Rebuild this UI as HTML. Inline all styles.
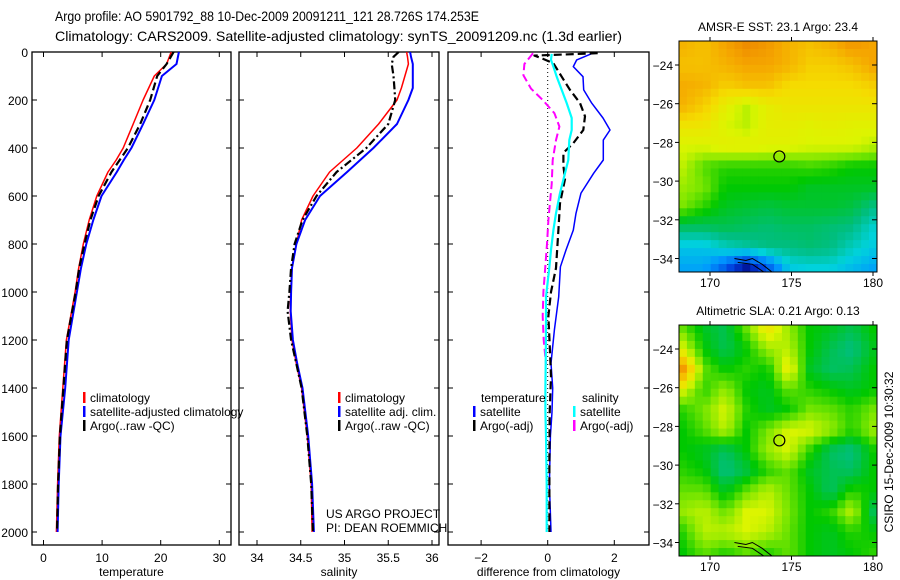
<!DOCTYPE html>
<html><head><meta charset="utf-8"><style>
body{margin:0;background:#fff;}
svg{display:block;font-family:"Liberation Sans",sans-serif;}
</style></head><body>
<svg id="chart" width="900" height="580" viewBox="0 0 900 580" xmlns="http://www.w3.org/2000/svg">
<text x="55" y="21" font-size="14" textLength="424" lengthAdjust="spacingAndGlyphs">Argo profile: AO 5901792_88 10-Dec-2009 20091211_121 28.726S 174.253E</text>
<text x="55" y="41" font-size="14" textLength="567" lengthAdjust="spacingAndGlyphs">Climatology: CARS2009. Satellite-adjusted climatology: synTS_20091209.nc (1.3d earlier)</text>
<g id="g"></g>
</svg>
<script>
// ---------- data ----------
const tDepth   = [0,50,100,200,300,400,450,500,600,700,800,900,1000,1200,1400,1600,1800,2000];
const tClim    = [21.8,21.0,18.9,17.0,15.3,13.6,12.4,11.0,9.1,7.8,6.8,6.0,5.4,3.9,3.3,2.7,2.4,2.2];
const tSat     = [23.1,22.7,20.2,18.9,17.0,15.0,13.7,12.5,9.9,8.5,7.3,6.4,5.7,4.3,3.7,2.9,2.6,2.4];
const tArgo    = [22.2,21.0,19.4,18.2,16.5,14.4,13.0,11.6,9.4,8.0,7.0,6.1,5.5,4.0,3.4,2.8,2.5,2.3];
const sDepth   = [0,20,50,100,150,200,300,400,500,600,700,800,900,1000,1080,1200,1300,1400,1600,1800,2000];
const sClim    = [35.71,35.72,35.73,35.69,35.65,35.60,35.39,35.14,34.83,34.64,34.51,34.45,34.40,34.385,34.38,34.40,34.45,34.51,34.575,34.62,34.63];
const sSat     = [35.75,35.76,35.78,35.78,35.78,35.73,35.60,35.33,35.03,34.72,34.55,34.45,34.40,34.39,34.385,34.41,34.46,34.52,34.585,34.63,34.65];
const sArgo    = [35.62,35.56,35.54,35.56,35.57,35.58,35.50,35.25,34.91,34.68,34.52,34.43,34.39,34.37,34.35,34.39,34.45,34.51,34.575,34.62,34.64];
const dTDepth  = [8,33,61,103,158,213,275,325,367,450,505,588,672,742,825,895,1020,1158,1297,1400,1500,1600,1800,2000];
const dTSat    = [1.3,0.87,0.77,1.06,1.08,1.32,1.66,1.87,1.67,1.67,1.38,1.0,0.85,0.77,0.55,0.38,0.33,0.2,0.1,0.15,0.13,0.08,0.05,0.1];
const dSSat    = [0.12,0.1,0.17,0.27,0.42,0.57,0.72,0.72,0.65,0.62,0.52,0.37,0.25,0.17,0.1,0.05,-0.05,-0.05,-0.06,-0.07,-0.07,-0.05,-0.03,-0.03];
const dADepth  = [5,15,25,47,103,158,213,268,325,380,420,475,530,630,742,900,1000,1100,1250,1350,1500,1700,2000];
const dTArgo   = [1.5,-0.4,-0.2,0.17,0.42,0.67,0.97,1.12,1.07,0.77,0.47,0.47,0.52,0.37,0.32,0.25,0.1,0.02,0.07,0.1,0.06,0.05,0.05];
const dSDepth  = [5,50,97,153,200,255,311,367,450,550,700,800,1000,1100,1200,1300];
const dSArgo   = [-0.44,-0.7,-0.73,-0.5,-0.15,0.2,0.35,0.25,0.15,0.12,0.02,-0.02,-0.13,-0.15,-0.12,-0.05];
const depthTicks = [0,200,400,600,800,1000,1200,1400,1600,1800,2000];
const tTicks = [0,10,20,30];
const sTicks = [34,34.5,35,35.5,36];
const dTicks = [-2,0,2];
const latTicks = [-24,-26,-28,-30,-32,-34];
const lonTicks = [170,175,180];
const sstField = [
[.74,.72,.76,.80,.78,.74,.72,.74,.78,.76],[.72,.72,.74,.76,.76,.74,.70,.70,.72,.76],
[.75,.74,.70,.72,.72,.68,.68,.68,.68,.70],[.74,.70,.64,.60,.64,.66,.66,.66,.66,.66],
[.66,.66,.62,.60,.64,.64,.63,.64,.63,.63],[.62,.62,.64,.64,.63,.63,.62,.62,.62,.60],
[.60,.54,.52,.52,.52,.52,.53,.52,.50,.50],[.58,.56,.50,.50,.50,.50,.48,.48,.48,.48],
[.56,.52,.48,.47,.46,.47,.47,.47,.46,.42],[.44,.44,.45,.44,.43,.44,.44,.43,.42,.37],
[.34,.34,.38,.40,.42,.42,.43,.42,.38,.35],[.30,.30,.20,.06,.20,.35,.36,.36,.33,.30]];
const slaField = [
[.55,.48,.45,.55,.66,.58,.50,.48,.45,.50],[.62,.50,.45,.50,.58,.60,.50,.45,.42,.48],
[.78,.55,.50,.52,.50,.65,.48,.44,.45,.50],[.62,.52,.58,.50,.48,.55,.52,.50,.48,.50],
[.52,.56,.62,.52,.48,.50,.56,.55,.52,.56],[.50,.54,.60,.50,.56,.62,.62,.58,.52,.58],
[.50,.48,.44,.50,.58,.62,.52,.44,.42,.50],[.52,.50,.42,.46,.52,.55,.48,.45,.44,.50],
[.55,.55,.48,.55,.60,.55,.50,.44,.52,.50],[.58,.60,.55,.62,.62,.56,.50,.52,.60,.45],
[.52,.60,.60,.62,.60,.55,.50,.48,.52,.50],[.50,.55,.52,.55,.52,.55,.50,.48,.50,.52]];
const argoLon = 174.253, argoLat = -28.726;

// ---------- helpers ----------
const NS="http://www.w3.org/2000/svg", G=document.getElementById('g');
function mk(tag,attrs,parent){const e=document.createElementNS(NS,tag);for(const k in attrs)e.setAttribute(k,attrs[k]);(parent||G).appendChild(e);return e;}
function txt(x,y,s,size,anchor,name){const t=mk('text',{x:x,y:y,'font-size':size||12,'text-anchor':anchor||'start'});t.textContent=s;


return t;}
const Y0=52, YB=545;
const yD = d => Y0 + d*0.24;
const xT = v => 43.5 + v*5.86;
const xS = v => 257 + (v-34)*87.5;
const xDf = v => 547.7 + v*33.3;

function panel(x0,x1,name,xticks,xf,label,ylabels){
  const r=mk('rect',{x:x0,y:Y0,width:x1-x0,height:YB-Y0,fill:'none',stroke:'#000','stroke-width':1.3});
  
  
  depthTicks.forEach(d=>{const y=yD(d);
    mk('line',{x1:x0,x2:x0+5,y1:y,y2:y,stroke:'#000'});mk('line',{x1:x1,x2:x1-5,y1:y,y2:y,stroke:'#000'});
    if(ylabels) txt(x0-4,y+5,String(d),12,'end','y-tick-label');});
  xticks.forEach(v=>{const x=xf(v);
    mk('line',{x1:x,x2:x,y1:Y0,y2:Y0+5,stroke:'#000'});mk('line',{x1:x,x2:x,y1:YB,y2:YB-5,stroke:'#000'});
    txt(x,562,String(v).replace('-','\u2212'),12,'middle','x-tick-label');});
  txt((x0+x1)/2,576,label,12,'middle',name+'-x-axis-title');
}
function line(depths,vals,xf,color,w,dash,name){
  const pts=depths.map((d,i)=>xf(vals[i]).toFixed(1)+','+yD(d).toFixed(1)).join(' ');
  const p=mk('polyline',{points:pts,fill:'none',stroke:color,'stroke-width':w,'stroke-linejoin':'round'});
  if(dash)p.setAttribute('stroke-dasharray',dash);
  
  
}
function legend(x,y,items){items.forEach((it,i)=>{
  const r=mk('rect',{x:x,y:y+i*14-10,width:2.5,height:11,fill:it[0]});
  
  
  txt(x+7,y+i*14,it[1],12,'start','legend-entry');});}

// ---------- temperature panel ----------
panel(32,231,'temperature-panel',tTicks,xT,'temperature',true);
line(tDepth,tClim,xT,'#f00',1.5,null,'temp-climatology-line');
line(tDepth,tSat,xT,'#00f',2,null,'temp-satellite-line');
line(tDepth,tArgo,xT,'#000',2.2,'8,4','temp-argo-line');
legend(83,402,[['#f00','climatology'],['#00f','satellite-adjusted climatology'],['#000','Argo(..raw -QC)']]);

// ---------- salinity panel ----------
panel(239,439,'salinity-panel',sTicks,xS,'salinity',false);
line(sDepth,sClim,xS,'#f00',1.5,null,'sal-climatology-line');
line(sDepth,sSat,xS,'#00f',2,null,'sal-satellite-line');
line(sDepth,sArgo,xS,'#000',2.2,'8,3,2,3','sal-argo-line');
legend(338,402,[['#f00','climatology'],['#00f','satellite adj. clim.'],['#000','Argo(..raw -QC)']]);
txt(326,518,'US ARGO PROJECT',12,'start','credit-project');
txt(326,532,'PI: DEAN ROEMMICH',12,'start','credit-pi');

// ---------- difference panel ----------
panel(448,649,'difference-panel',dTicks,xDf,'difference from climatology',false);
mk('line',{x1:xDf(0),x2:xDf(0),y1:Y0,y2:yD(2000),stroke:'#000','stroke-width':1,'stroke-dasharray':'1,3'});
line(dTDepth,dTSat,xDf,'#00f',1.5,null,'temp-sat-diff-line');
line(dADepth,dTArgo,xDf,'#000',2.2,'8,4','temp-argo-diff-line');
line(dSDepth,dSArgo,xDf,'#f0f',2,'8,4','sal-argo-diff-line');
line(dTDepth,dSSat,xDf,'#0ff',2.2,null,'sal-sat-diff-line');
txt(481,402,'temperature',12,'start','legend-temperature-heading');
txt(582,402,'salinity',12,'start','legend-salinity-heading');
legend(473,416,[['#00f','satellite'],['#000','Argo(-adj)']]);
legend(573,416,[['#0ff','satellite'],['#f0f','Argo(-adj)']]);

// ---------- maps ----------
const stops=[[0,0,0,120],[.15,0,60,220],[.28,0,150,255],[.36,0,210,220],[.42,0,190,130],[.5,0,200,0],[.56,120,230,0],[.62,220,245,0],[.68,245,220,0],[.76,245,165,0],[.85,230,110,0],[1,200,40,0]];
function cmap(v){for(let i=1;i<stops.length;i++){if(v<=stops[i][0]){const a=stops[i-1],b=stops[i],t=(v-a[0])/(b[0]-a[0]);
  return 'rgb('+[1,2,3].map(k=>Math.round(a[k]+(b[k]-a[k])*t)).join(',')+')';}}return 'rgb(200,40,0)';}
function map(top,field,title,name){
  const L=679,R=877,B=top+231,NC=25,NR=29,cw=(R-L)/NC,ch=(B-top)/NR;
  const grp=mk('g',{});
  
  
  const fr=field.length,fc=field[0].length;
  for(let r=0;r<NR;r++)for(let c=0;c<NC;c++){
    const fy=r/(NR-1)*(fr-1),fx=c/(NC-1)*(fc-1),i=Math.floor(fy),j=Math.floor(fx),i2=Math.min(i+1,fr-1),j2=Math.min(j+1,fc-1),ty=fy-i,tx=fx-j;
    const v=field[i][j]*(1-tx)*(1-ty)+field[i][j2]*tx*(1-ty)+field[i2][j]*(1-tx)*ty+field[i2][j2]*tx*ty;
    mk('rect',{x:(L+c*cw).toFixed(2),y:(top+r*ch).toFixed(2),width:(cw+0.5).toFixed(2),height:(ch+0.5).toFixed(2),fill:cmap(v)},grp);}
  const fr2=mk('rect',{x:L,y:top,width:R-L,height:B-top,fill:'none',stroke:'#000','stroke-width':1});
  
  
  const lon=v=>710+(v-170)*16.3, lat=v=>top+24+(-v-24)*19.35;
  latTicks.forEach(v=>{const y=lat(v);mk('line',{x1:L,x2:L-4,y1:y,y2:y,stroke:'#000'});mk('line',{x1:R,x2:R-5,y1:y,y2:y,stroke:'#000'});
    txt(L-6,y+5,String(v).replace('-','\u2212'),12,'end','map-lat-label');});
  lonTicks.forEach(v=>{const x=lon(v);mk('line',{x1:x,x2:x,y1:B,y2:B+4,stroke:'#000'});mk('line',{x1:x,x2:x,y1:top,y2:top-4,stroke:'#000'});
    txt(x,B+15,String(v),12,'middle','map-lon-label');});
  txt(778,top-10,title,12,'middle',name+'-title');
  const cst=mk('polyline',{points:[[171.5,-34],[172.2,-34.1],[172.6,-34.0],[173.2,-34.3],[173.8,-34.7]].map(p=>lon(p[0])+','+lat(p[1])).join(' ')+' '+[[173.3,-34.7],[172.6,-34.3],[171.7,-34.2]].map(p=>lon(p[0])+','+lat(p[1])).join(' '),fill:'none',stroke:'#000','stroke-width':1});
  
  
  const c=mk('circle',{cx:lon(argoLon),cy:lat(argoLat),r:5.5,fill:'none',stroke:'#000','stroke-width':1.2});
  
  
}
map(41,sstField,'AMSR-E SST: 23.1 Argo: 23.4','sst-map');
map(325,slaField,'Altimetric SLA: 0.21 Argo: 0.13','sla-map');
const st=txt(0,0,'CSIRO 15-Dec-2009 10:30:32',12,'middle','timestamp');
st.setAttribute('transform','translate(893,452) rotate(-90)');
</script>
</body></html>
